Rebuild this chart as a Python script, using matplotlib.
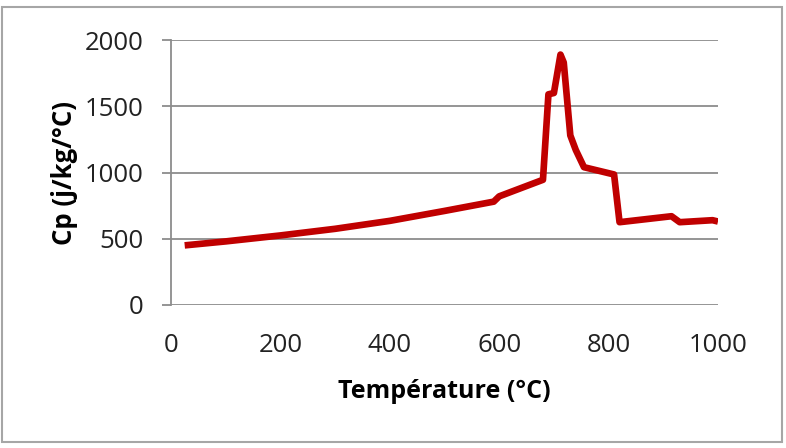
import matplotlib
matplotlib.use('Agg')
import matplotlib.pyplot as plt
from matplotlib.patches import Rectangle

# temperature (°C) and specific heat (j/kg/°C)
temperature = [25, 100, 200, 300, 400, 500, 590, 600, 680, 690, 700, 712,
               718, 730, 740, 755, 810, 820, 915, 930, 990, 1000]
cp = [450, 480, 525, 575, 635, 710, 780, 820, 945, 1590, 1600, 1890,
      1830, 1280, 1170, 1040, 985, 625, 670, 625, 640, 630]

x_ticks = [0, 200, 400, 600, 800, 1000]
y_ticks = [0, 500, 1000, 1500, 2000]

plt.rcParams['font.family'] = ['Open Sans', 'DejaVu Sans']

fig = plt.figure(figsize=(7.86, 4.48), dpi=100)
ax = fig.add_axes([171/786, 1 - 305/448, (718 - 171)/786, (305 - 40)/448])

ax.plot(temperature, cp, color='#C00000', lw=4.8, solid_joinstyle='round',
	solid_capstyle='butt', zorder=3)

ax.set_xlim(0, 1000)
ax.set_ylim(0, 2000)
ax.set_xticks(x_ticks)
ax.set_yticks(y_ticks)

# gridlines
grid_color = '#8c8c8c'
ax.grid(axis='y', color=grid_color, lw=1.3)
ax.set_axisbelow(True)

for side in ['top', 'right', 'bottom']:
	ax.spines[side].set_visible(False)
ax.spines['left'].set_color(grid_color)
ax.spines['left'].set_linewidth(1.3)

ax.tick_params(axis='y', length=6.7, width=1.3, color=grid_color,
	pad=13, labelsize=18.5, labelcolor='#222222')
ax.tick_params(axis='x', length=0, pad=20, labelsize=18.5, labelcolor='#222222')

ax.set_xlabel('Température (°C)', fontsize=18, fontweight='bold', labelpad=15)
ax.set_ylabel('Cp (j/kg/°C)', fontsize=18.5, fontweight='bold', labelpad=5)

# outer chart frame
fig.patches.append(Rectangle((2/786, 1 - 442/448), 780/786, 435/448,
	transform=fig.transFigure, fill=False, edgecolor='#a6a6a6', lw=1.5))

fig.savefig('out.png', dpi=100)
